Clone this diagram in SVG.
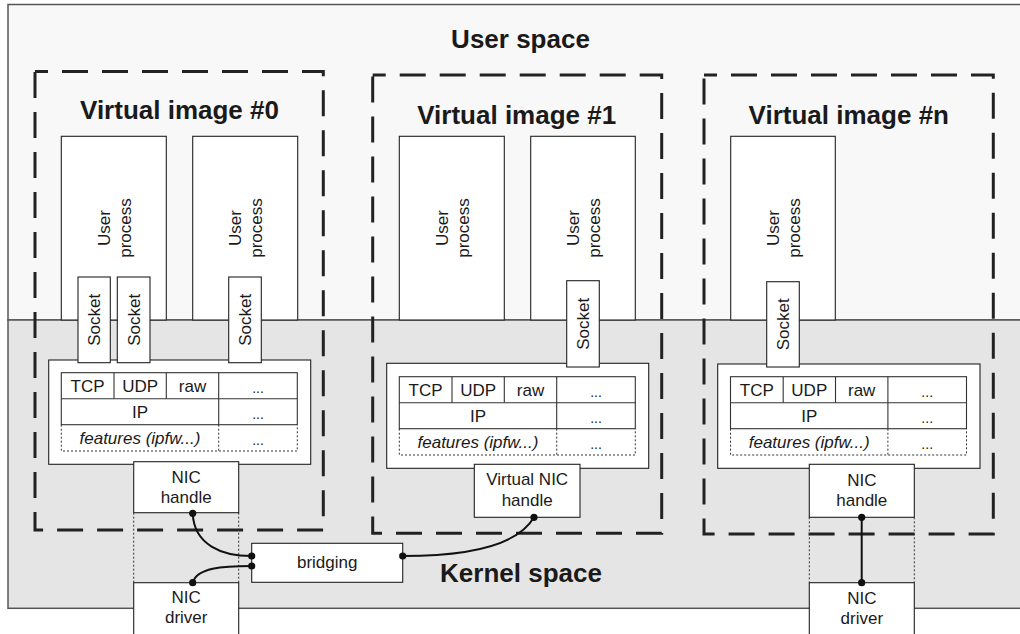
<svg xmlns="http://www.w3.org/2000/svg" width="1020" height="634" viewBox="0 0 1020 634">
<defs>
<style>
text{font-family:"Liberation Sans",Arial,Helvetica,sans-serif;fill:#1a1a1a;}
.title{font-size:26px;font-weight:bold;text-anchor:middle;}
.lbl{font-size:17px;text-anchor:middle;}
.it{font-style:italic;}
.dots{font-size:14px;text-anchor:middle;}
.box{fill:#ffffff;stroke:#222;stroke-width:1.1;}
.cell{fill:none;stroke:#333;stroke-width:1.1;}
.dotted{fill:none;stroke:#333;stroke-width:1;stroke-dasharray:2 2;}
.vi{fill:none;stroke:#222;stroke-width:3;stroke-dasharray:26 14;stroke-dashoffset:13;}
.conn{fill:none;stroke:#111;stroke-width:2;}
.dot{fill:#111;}
</style>
<g id="tbl">
<rect class="cell" x="0" y="0" width="236" height="52"/>
<line class="cell" x1="0" y1="26" x2="236" y2="26"/>
<line class="cell" x1="52.7" y1="0" x2="52.7" y2="26"/>
<line class="cell" x1="105" y1="0" x2="105" y2="26"/>
<line class="cell" x1="157.4" y1="0" x2="157.4" y2="52"/>
<path class="dotted" d="M0,52 V78.3 H236 V52 M157.4,52 V78.3"/>
<text class="lbl" x="26.3" y="19">TCP</text>
<text class="lbl" x="78.8" y="19">UDP</text>
<text class="lbl" x="131.2" y="19">raw</text>
<text class="dots" x="196.7" y="20">...</text>
<text class="lbl" x="78.7" y="45.6">IP</text>
<text class="dots" x="196.7" y="46">...</text>
<text class="lbl it" x="78.7" y="71.3">features (ipfw...)</text>
<text class="dots" x="196.7" y="72">...</text>
</g>
</defs>

<g id="background">
<rect x="8" y="4.5" width="1030" height="315.5" fill="#f8f8f8" stroke="#555" stroke-width="1.5"/>
<rect x="8" y="320" width="1030" height="288.3" fill="#e5e5e5" stroke="#555" stroke-width="1.5"/>
<text class="title" x="520.5" y="47.7">User space</text>
<text class="title" x="521" y="581.7">Kernel space</text>
</g>

<g id="vi0">
<rect class="vi" x="35" y="71.5" width="288.3" height="458.5"/>
<text class="title" x="179.5" y="119.3">Virtual image #0</text>
</g>
<g id="vi1">
<rect class="vi" x="372.7" y="75" width="289" height="458.3"/>
<text class="title" x="516.7" y="124.3">Virtual image #1</text>
</g>
<g id="vin">
<rect class="vi" x="704" y="75" width="289.3" height="459"/>
<text class="title" x="848.8" y="124.3">Virtual image #n</text>
</g>

<g id="proc0a"><rect class="box" x="61.3" y="136.3" width="105" height="183.7"/>
<text class="lbl" transform="translate(113.8,228) rotate(-90)"><tspan x="0" y="-4">User</tspan><tspan x="0" y="17">process</tspan></text></g>
<g id="proc0b"><rect class="box" x="192.7" y="136.3" width="105" height="183.7"/>
<text class="lbl" transform="translate(245.2,228) rotate(-90)"><tspan x="0" y="-4">User</tspan><tspan x="0" y="17">process</tspan></text></g>
<g id="proc1a"><rect class="box" x="399.3" y="136.3" width="105" height="183.7"/>
<text class="lbl" transform="translate(451.8,228) rotate(-90)"><tspan x="0" y="-4">User</tspan><tspan x="0" y="17">process</tspan></text></g>
<g id="proc1b"><rect class="box" x="530.7" y="136.3" width="104.6" height="183.7"/>
<text class="lbl" transform="translate(583,228) rotate(-90)"><tspan x="0" y="-4">User</tspan><tspan x="0" y="17">process</tspan></text></g>
<g id="procna"><rect class="box" x="730.7" y="136.3" width="104.6" height="183.7"/>
<text class="lbl" transform="translate(783,228) rotate(-90)"><tspan x="0" y="-4">User</tspan><tspan x="0" y="17">process</tspan></text></g>

<g id="stack0"><rect class="box" x="48.7" y="360" width="262" height="104.3"/>
<use href="#tbl" transform="translate(61.3,372.7)"/></g>
<g id="stack1"><rect class="box" x="386.7" y="363.3" width="262" height="105"/>
<use href="#tbl" transform="translate(399.3,376.7)"/></g>
<g id="stackn"><rect class="box" x="717.7" y="364" width="262.3" height="104.3"/>
<use href="#tbl" transform="translate(730.5,376.7)"/></g>

<g id="sock0a"><rect class="box" x="78" y="277" width="32.3" height="85.7"/>
<text class="lbl" transform="translate(94.2,319.8) rotate(-90)" x="0" y="6">Socket</text></g>
<g id="sock0b"><rect class="box" x="117.3" y="277" width="32.7" height="85.7"/>
<text class="lbl" transform="translate(133.6,319.8) rotate(-90)" x="0" y="6">Socket</text></g>
<g id="sock0c"><rect class="box" x="228.7" y="277" width="32.6" height="85.7"/>
<text class="lbl" transform="translate(245,319.8) rotate(-90)" x="0" y="6">Socket</text></g>
<g id="sock1"><rect class="box" x="566.7" y="280.7" width="32.6" height="86.3"/>
<text class="lbl" transform="translate(583,323.8) rotate(-90)" x="0" y="6">Socket</text></g>
<g id="sockn"><rect class="box" x="766.7" y="281.7" width="32.6" height="85.3"/>
<text class="lbl" transform="translate(783,324.3) rotate(-90)" x="0" y="6">Socket</text></g>

<g id="nic0">
<path class="dotted" d="M133.7,512.7 V582.7 M238.7,512.7 V582.7"/>
<rect class="box" x="133.7" y="461.7" width="105" height="51"/>
<text class="lbl" x="186.2" y="482.7">NIC</text>
<text class="lbl" x="186.2" y="502.7">handle</text>
</g>
<g id="drv0">
<rect class="box" x="133.7" y="582.7" width="105" height="60"/>
<text class="lbl" x="186.2" y="603.3">NIC</text>
<text class="lbl" x="186.2" y="623.3">driver</text>
</g>
<g id="vnic1">
<rect class="box" x="474.3" y="464.3" width="105.7" height="53"/>
<text class="lbl" x="527.2" y="485">Virtual NIC</text>
<text class="lbl" x="527.2" y="506">handle</text>
</g>
<g id="nicn">
<path class="dotted" d="M809.3,517.3 V582.7 M914.3,517.3 V582.7"/>
<rect class="box" x="809.3" y="464.3" width="105" height="53"/>
<text class="lbl" x="861.8" y="486">NIC</text>
<text class="lbl" x="861.8" y="506">handle</text>
</g>
<g id="drvn">
<rect class="box" x="809.3" y="582.7" width="105" height="60"/>
<text class="lbl" x="861.8" y="604">NIC</text>
<text class="lbl" x="861.8" y="624">driver</text>
</g>
<g id="bridging">
<rect class="box" x="251.7" y="543.3" width="151" height="39"/>
<text class="lbl" x="327.2" y="568">bridging</text>
</g>

<g id="connectors">
<path class="conn" d="M192.7,513.3 C194,545 222,556 251.7,556"/>
<path class="conn" d="M251.7,566 C222,566 197,568 192.7,582.7"/>
<path class="conn" d="M534,517.3 C518,545 470,556 402.7,556"/>
<path class="conn" d="M861.7,517.3 V582.7"/>
<circle class="dot" cx="192.7" cy="513.3" r="3.6"/>
<circle class="dot" cx="251.7" cy="556" r="3.6"/>
<circle class="dot" cx="251.7" cy="566" r="3.6"/>
<circle class="dot" cx="192.7" cy="582.7" r="3.6"/>
<circle class="dot" cx="534" cy="517.3" r="3.6"/>
<circle class="dot" cx="402.7" cy="556" r="3.6"/>
<circle class="dot" cx="861.7" cy="517.3" r="3.6"/>
<circle class="dot" cx="861.7" cy="582.7" r="3.6"/>
</g>
</svg>
